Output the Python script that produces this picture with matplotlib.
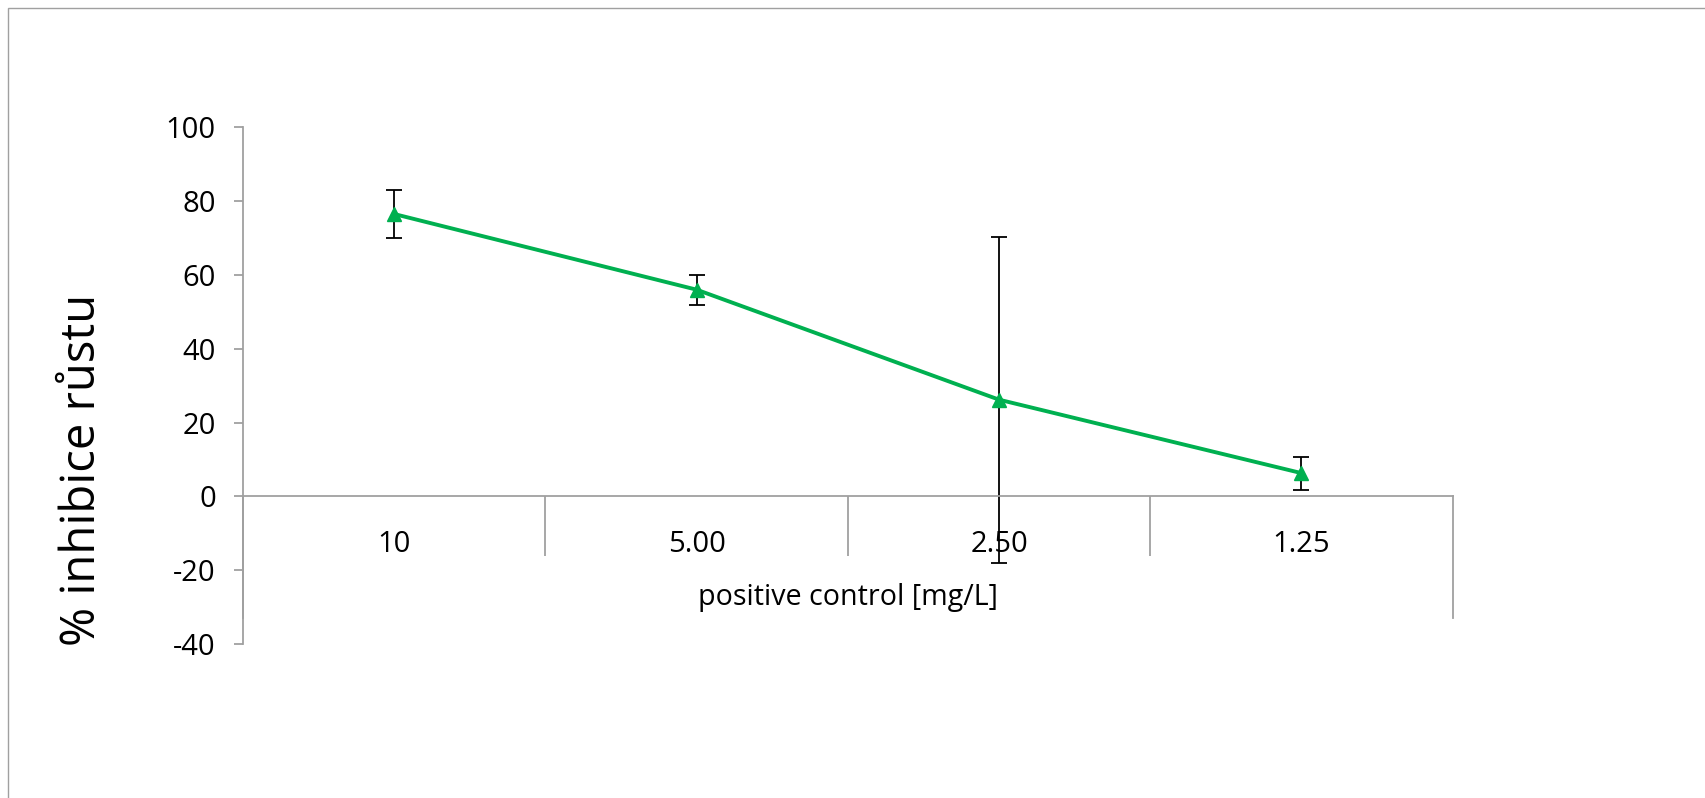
import numpy as np
import matplotlib
matplotlib.use("Agg")
import matplotlib.pyplot as plt
from matplotlib.patches import Rectangle

# ---- data ----
categories = ["10", "5.00", "2.50", "1.25"]
inhibition = [76.5, 56.0, 26.2, 6.3]
errors = [6.5, 4.1, 44.2, 4.5]
y_ticks = [-40, -20, 0, 20, 40, 60, 80, 100]
x_label = "positive control [mg/L]"
y_label = "% inhibice růstu"

FONT = "Open Sans"
plt.rcParams["font.family"] = [FONT, "DejaVu Sans"]

W, H = 1706, 798
fig = plt.figure(figsize=(W / 100, H / 100), dpi=100)

# chart-area border (only top and left edges visible)
fig.patches.append(Rectangle((8 / W, -0.1), 1.2, 1 - 8 / H + 0.1,
                             transform=fig.transFigure, fill=False,
                             edgecolor="#a0a0a0", linewidth=1.0))

left, right, top, bottom = 243, 1452.7, 127.3, 644
ax = fig.add_axes([left / W, 1 - bottom / H, (right - left) / W, (bottom - top) / H])

x = np.arange(len(categories))
ax.errorbar(x, inhibition, yerr=errors, fmt="none", ecolor="black",
            elinewidth=1.3, capsize=6, capthick=1.3, zorder=2)
ax.plot(x, inhibition, color="#00B050", linewidth=2.8, marker="^",
        markersize=10.5, zorder=3)

ax.set_xlim(-0.5, len(categories) - 0.5)
ax.set_ylim(-40, 100)
ax.set_yticks(y_ticks)
ax.set_yticklabels([str(v) for v in y_ticks])

axis_gray = "#a0a0a0"
for s in ["top", "right"]:
    ax.spines[s].set_visible(False)
ax.spines["left"].set_color(axis_gray)
ax.spines["left"].set_linewidth(1.3)
ax.spines["bottom"].set_position(("data", 0))
ax.spines["bottom"].set_color(axis_gray)
ax.spines["bottom"].set_linewidth(1.3)

ax.set_xticks(x)
ax.set_xticklabels(categories)
ax.set_xticks(np.arange(len(categories) - 1) + 0.5, minor=True)
ax.tick_params(axis="x", which="major", length=0, pad=24, labelsize=21)
ax.tick_params(axis="x", which="minor", length=43, width=1.3,
               color=axis_gray, direction="out")
ax.tick_params(axis="y", length=6.5, width=1.3, color=axis_gray,
               direction="out", pad=13, labelsize=21)

# outer category boundary lines (longer)
for xb in [-0.5, len(categories) - 0.5]:
    ax.plot([xb, xb], [0, -33], color=axis_gray, linewidth=1.3,
            clip_on=False, zorder=1)

fig.text(848 / W, 1 - 598 / H, x_label, ha="center", va="center", fontsize=20.6)
fig.text(82 / W, 1 - 470 / H, y_label, ha="center", va="center",
         rotation=90, fontsize=34)

fig.savefig("out.png", dpi=100)
